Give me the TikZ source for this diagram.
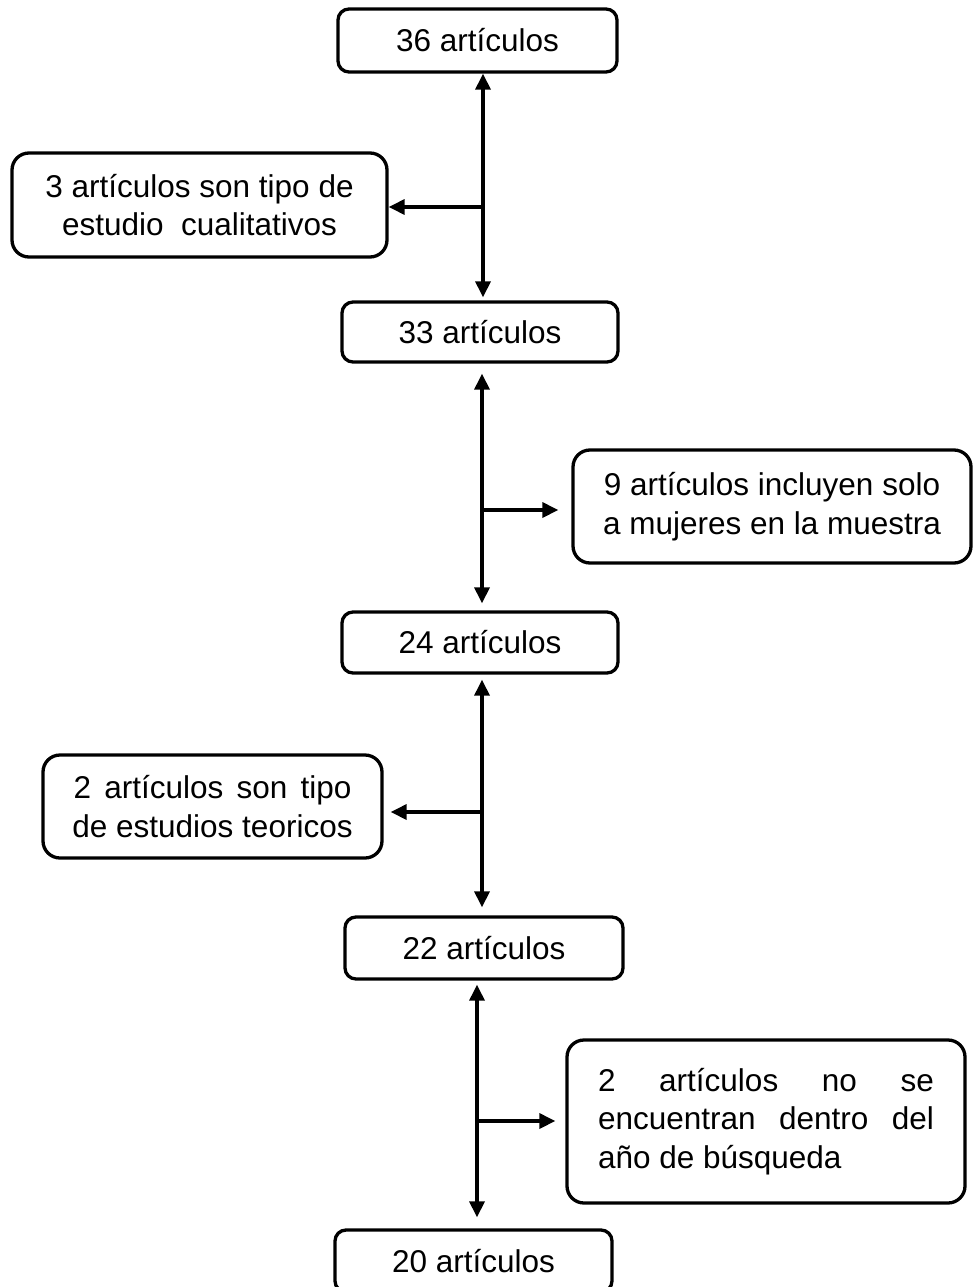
\documentclass[tikz,border=0pt]{standalone}
\usepackage{fontspec}
\setmainfont{Liberation Sans}
\usetikzlibrary{arrows.meta}

\begin{document}
\begin{tikzpicture}[x=1pt,y=1pt,yscale=-1,xscale=1,
  box/.style={draw,line width=3.3pt,rounded corners=11pt,inner sep=0pt,
    font=\fontsize{31.5}{38.5}\selectfont},
  notebox/.style={box,rounded corners=17pt,align=center},
  flow/.style={line width=3.3pt,-{Triangle[length=16pt,width=15pt]}},
  flowboth/.style={line width=3.3pt,{Triangle[length=16pt,width=15pt]}-{Triangle[length=16pt,width=15pt]}}]
%set diagram left start at 0, and has height of 1287
\useasboundingbox (0,0) rectangle (972,1287);

% Trunk positions
\coordinate (tA) at (483,0);
\coordinate (tB) at (482,0);
\coordinate (tC) at (482,0);
\coordinate (tD) at (477,0);

%Rounded Rect
\node[box,minimum width=279pt,minimum height=63pt] (b36) at (477.5,40.5) {36 artículos};
%Rounded Rect
\node[box,minimum width=276pt,minimum height=60pt] (b33) at (480,332) {33 artículos};
%Rounded Rect
\node[box,minimum width=276pt,minimum height=61pt] (b24) at (480,642.5) {24 artículos};
%Rounded Rect
\node[box,minimum width=278pt,minimum height=62pt] (b22) at (484,948) {22 artículos};
%Rounded Rect
\node[box,minimum width=277pt,minimum height=62pt] (b20) at (473.5,1261) {20 artículos};

%Rounded Rect
\node[notebox,minimum width=375pt,minimum height=104pt] (n3) at (199.5,205)
  {3 artículos son tipo de\\estudio\ \ cualitativos};
%Rounded Rect
\node[notebox,minimum width=398pt,minimum height=113pt] (n9) at (772,506.5)
  {9 artículos incluyen solo\\a mujeres en la muestra};
%Rounded Rect
\node[notebox,minimum width=339pt,minimum height=103pt] (n2t) at (212.5,806.5)
  {\makebox[278pt][s]{2 artículos son tipo}\\de estudios teoricos};
%Rounded Rect
\node[notebox,align=left,minimum width=398pt,minimum height=163pt] (n2y) at (766,1121.5)
  {\makebox[336pt][s]{2 artículos no se}\\\makebox[336pt][s]{encuentran dentro del}\\año de búsqueda};

%Straight Lines
\draw[flowboth,shorten >=3pt] (b36.south -| tA) -- (b33.north -| tA);
\draw[flow] (tA |- 0,207) -- (n3.east |- 0,207);
%Straight Lines
\draw[flowboth,shorten <=10pt,shorten >=7pt] (b33.south -| tB) -- (b24.north -| tB);
\draw[flow,shorten >=13pt] (tB |- 0,510) -- (n9.west |- 0,510);
%Straight Lines
\draw[flowboth,shorten <=5pt,shorten >=8pt] (b24.south -| tC) -- (b22.north -| tC);
\draw[flow,shorten >=7pt] (tC |- 0,812) -- (n2t.east |- 0,812);
%Straight Lines
\draw[flowboth,shorten <=4pt,shorten >=11pt] (b22.south -| tD) -- (b20.north -| tD);
\draw[flow,shorten >=10pt] (tD |- 0,1121) -- (n2y.west |- 0,1121);

\end{tikzpicture}
\end{document}
